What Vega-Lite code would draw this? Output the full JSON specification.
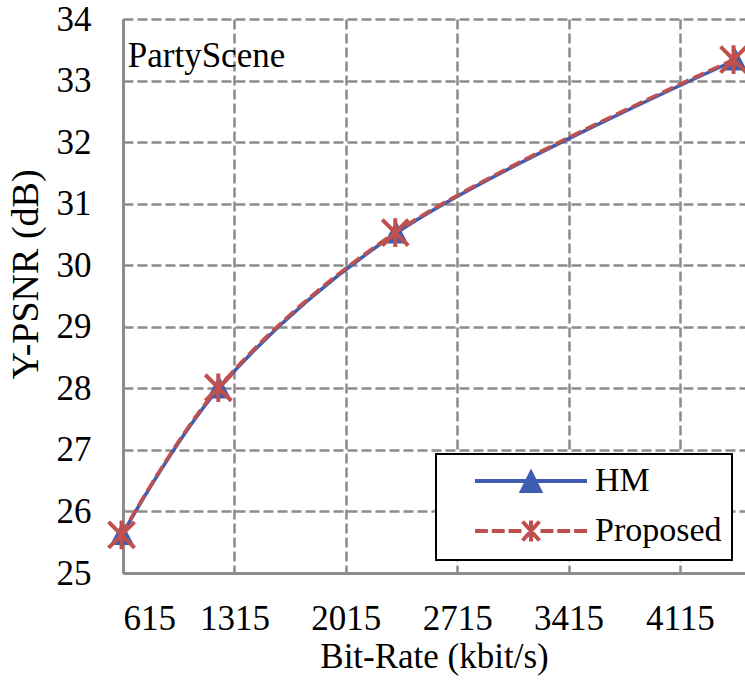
{
  "$schema": "https://vega.github.io/schema/vega-lite/v6.json",
  "width": 622,
  "height": 554,
  "autosize": "none",
  "padding": {"left": 123, "top": 19, "right": 0, "bottom": 109},
  "background": "white",
  "config": {
    "view": {"stroke": null},
    "font": "Liberation Serif"
  },
  "datasets": {
    "curves": [
      {"series": "HM", "rate": 609, "psnr": 25.62},
      {"series": "HM", "rate": 1218, "psnr": 28.0},
      {"series": "HM", "rate": 2331, "psnr": 30.52},
      {"series": "HM", "rate": 4462, "psnr": 33.33},
      {"series": "Proposed", "rate": 606, "psnr": 25.62},
      {"series": "Proposed", "rate": 1214, "psnr": 28.01},
      {"series": "Proposed", "rate": 2326, "psnr": 30.53},
      {"series": "Proposed", "rate": 4452, "psnr": 33.34}
    ],
    "notes": [
      {"text": "PartyScene", "rate": 645, "psnr": 33.22}
    ]
  },
  "layer": [
    {
      "data": {"name": "curves"},
      "transform": [{"filter": "datum.series === 'HM'"}],
      "mark": {"type": "line", "interpolate": "catmull-rom", "strokeWidth": 3.5},
      "encoding": {
        "x": {
          "field": "rate", "type": "quantitative",
          "scale": {"domain": [615, 4524], "nice": false, "zero": false},
          "axis": {
            "values": [615, 1315, 2015, 2715, 3415, 4115],
            "format": "d",
            "title": "Bit-Rate (kbit/s)",
            "labelFont": "Liberation Serif",
            "labelFontSize": 35,
            "labelColor": "black",
            "labelPadding": 28,
            "titleFont": "Liberation Serif",
            "titleFontSize": 35,
            "titleFontWeight": "normal",
            "titleColor": "black",
            "titlePadding": 3,
            "ticks": false,
            "grid": true,
            "gridColor": "#8c8c8c",
            "gridDash": [10, 4],
            "gridWidth": 2.5,
            "domainColor": "#8c8c8c",
            "domainWidth": 3
          }
        },
        "y": {
          "field": "psnr", "type": "quantitative",
          "scale": {"domain": [25, 34], "nice": false, "zero": false},
          "axis": {
            "values": [25, 26, 27, 28, 29, 30, 31, 32, 33, 34],
            "format": "d",
            "title": "Y-PSNR (dB)",
            "labelFont": "Liberation Serif",
            "labelFontSize": 35,
            "labelColor": "black",
            "labelPadding": 32,
            "titleFont": "Liberation Serif",
            "titleFontSize": 38,
            "titleFontWeight": "normal",
            "titleColor": "black",
            "titlePadding": 11,
            "titleY": 255,
            "ticks": false,
            "grid": true,
            "gridColor": "#8c8c8c",
            "gridDash": [10, 4],
            "gridWidth": 2.5,
            "domainColor": "#8c8c8c",
            "domainWidth": 3
          }
        },
        "color": {
          "field": "series", "type": "nominal",
          "scale": {"domain": ["HM", "Proposed"], "range": ["#3F5DB0", "#C0504D"]},
          "legend": {
            "orient": "none",
            "legendX": 313,
            "legendY": 435,
            "title": null,
            "direction": "vertical",
            "fillColor": "white",
            "strokeColor": "black",
            "padding": 10,
            "symbolSize": 400,
            "symbolOffset": 68,
            "labelOffset": 47,
            "rowPadding": 13,
            "labelFont": "Liberation Serif",
            "labelFontSize": 34,
            "labelColor": "black",
            "labelExpr": "datum.label + '     '",
            "encode": {
              "legend": {"update": {"strokeWidth": {"value": 2}}},
              "symbols": {
                "update": {
                  "shape": {"signal": "datum.value === 'HM' ? 'M-5.6,0H5.6M0,-0.8L0.9,1.0L-0.9,1.0Z' : 'M-5.6,0H-4.31M-3.92,0H-2.63M-2.24,0H-0.95M-0.84,-0.95L0.84,0.95M-0.84,0.95L0.84,-0.95M0,-1.06V1.06M0.95,0H2.24M2.63,0H3.92M4.31,0H5.6'"},
                  "fill": {"signal": "datum.value === 'HM' ? '#3F5DB0' : 'transparent'"},
                  "stroke": {"signal": "datum.value === 'HM' ? '#3F5DB0' : '#C0504D'"},
                  "strokeWidth": {"value": 4},
                  "strokeDash": {"value": []},
                  "opacity": {"value": 1},
                  "size": {"value": 400}
                }
              }
            }
          }
        }
      }
    },
    {
      "data": {"name": "curves"},
      "transform": [{"filter": "datum.series === 'HM'"}],
      "mark": {"type": "point", "shape": "M0,-1.05L1,0.85L-1,0.85Z", "filled": true, "size": 576, "opacity": 1, "color": "#3F5DB0"},
      "encoding": {
        "x": {"field": "rate", "type": "quantitative"},
        "y": {"field": "psnr", "type": "quantitative"}
      }
    },
    {
      "data": {"name": "curves"},
      "transform": [{"filter": "datum.series === 'Proposed'"}],
      "mark": {"type": "line", "interpolate": "catmull-rom", "strokeWidth": 3.5, "strokeDash": [12, 5], "color": "#C0504D"},
      "encoding": {
        "x": {"field": "rate", "type": "quantitative"},
        "y": {"field": "psnr", "type": "quantitative"}
      }
    },
    {
      "data": {"name": "curves"},
      "transform": [{"filter": "datum.series === 'Proposed'"}],
      "mark": {"type": "point", "shape": "M-1,-1L1,1M-1,1L1,-1M0,-1.1V1.1", "filled": false, "size": 676, "opacity": 1, "strokeWidth": 4, "color": "#C0504D"},
      "encoding": {
        "x": {"field": "rate", "type": "quantitative"},
        "y": {"field": "psnr", "type": "quantitative"}
      }
    },
    {
      "data": {"name": "notes"},
      "mark": {"type": "text", "align": "left", "baseline": "alphabetic", "fontSize": 35, "font": "Liberation Serif", "color": "black"},
      "encoding": {
        "x": {"field": "rate", "type": "quantitative"},
        "y": {"field": "psnr", "type": "quantitative"},
        "text": {"field": "text"}
      }
    }
  ]
}
